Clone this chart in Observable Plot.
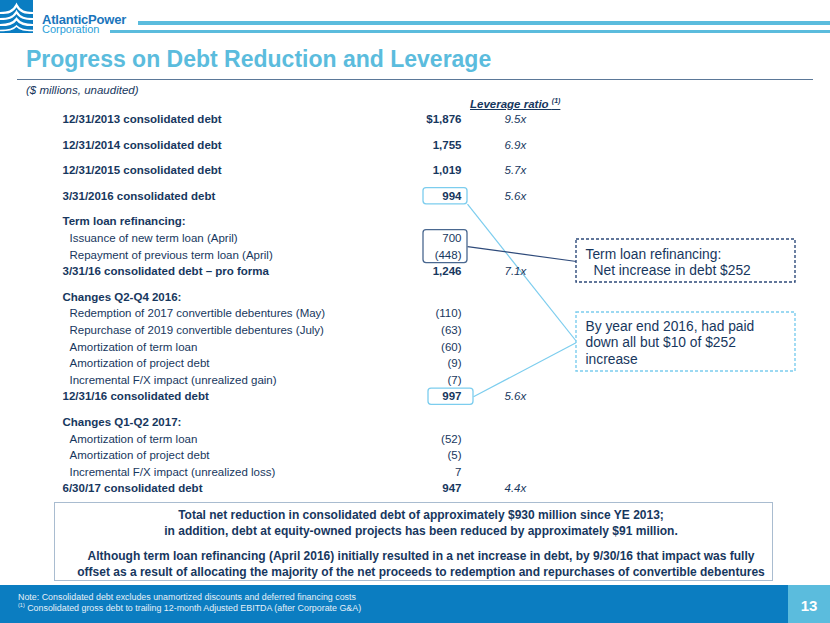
<!DOCTYPE html>
<html>
<head>
<meta charset="utf-8">
<script src="https://cdn.jsdelivr.net/npm/d3@7"></script>
<script src="https://cdn.jsdelivr.net/npm/@observablehq/plot@0.6"></script>
<style>
  html, body { margin: 0; padding: 0; background: #fff; }
  #slide { position: relative; width: 830px; height: 623px; overflow: hidden; background: #fff;
           font-family: "Liberation Sans", Arial, sans-serif; color: #17375E; }
  .abs { position: absolute; white-space: nowrap; }
</style>
</head>
<body>
<div id="slide">
  <svg class="abs" style="left:0;top:0" width="34" height="34" viewBox="0 0 34 34">
    <rect x="0" y="0" width="33" height="33" fill="#0A7DC2"/>
    <path d="M0,13 C8,13 13,12 16.5,5 C20,12 25,13 33,13" fill="none" stroke="#fff" stroke-width="2.2"/>
    <path d="M0,19 C8,19 13,18 16.5,12 C20,18 25,19 33,19" fill="none" stroke="#fff" stroke-width="2.2"/>
    <path d="M0,25 C8,25 13,24 16.5,19 C20,24 25,25 33,25" fill="none" stroke="#fff" stroke-width="2.2"/>
    <path d="M0,30.5 C8,30.5 13,30 16.5,26 C20,30 25,30.5 33,30.5" fill="none" stroke="#fff" stroke-width="1.6"/>
  </svg>
  <div class="abs" style="left:42px;top:14px;font-size:13px;line-height:11px;font-weight:bold;color:#1A75BC;letter-spacing:-0.2px">AtlanticPower</div>
  <div class="abs" style="left:42px;top:25px;font-size:11px;line-height:9px;color:#2B9FD9">Corporation</div>
  <div class="abs" style="left:138px;top:21px;width:692px;height:4px;background:#5BBCDD"></div>
  <div class="abs" style="left:110px;top:30px;width:720px;height:3px;background:#5BBCDD"></div>

  <div class="abs" id="title" style="left:26px;top:46px;font-size:23px;line-height:26px;font-weight:bold;color:#5BBCDD">Progress on Debt Reduction and Leverage</div>
  <div class="abs" style="left:17px;top:78.5px;width:796px;height:1.5px;background:#5B7898"></div>
  <div class="abs" style="left:26px;top:83px;font-size:11.5px;line-height:14px;font-style:italic;color:#17375E">($ millions, unaudited)</div>

  <div class="abs" style="left:470px;top:98px;font-size:11.5px;line-height:12px;font-weight:bold;font-style:italic;color:#17375E"><span style="text-decoration:underline">Leverage ratio <sup style="font-size:7px;line-height:0">(1)</sup></span></div>

  <div id="chart" class="abs" style="left:0;top:92px"></div>

  <div class="abs" style="left:54px;top:502px;width:717px;height:77px;border:1.5px solid #A9BCD0;background:#fff"></div>
  <div class="abs" style="left:60px;top:507px;width:722px;text-align:center;font-size:12px;line-height:16px;font-weight:bold;color:#17375E;white-space:normal">
    <div>Total net reduction in consolidated debt of approximately $930 million since YE 2013;</div>
    <div>in addition, debt at equity-owned projects has been reduced by approximately $91 million.</div>
    <div style="margin-top:9px">Although term loan refinancing (April 2016) initially resulted in a net increase in debt, by 9/30/16 that impact was fully</div>
    <div>offset as a result of allocating the majority of the net proceeds to redemption and repurchases of convertible debentures</div>
  </div>

  <div class="abs" style="left:0;top:585px;width:830px;height:38px;background:#0B7DC1"></div>
  <div class="abs" style="left:788px;top:585px;width:42px;height:38px;background:#5BBCDD"></div>
  <div class="abs" style="left:788px;top:597px;width:42px;text-align:center;font-size:15px;line-height:18px;font-weight:bold;color:#fff">13</div>
  <div class="abs" style="left:18px;top:591.5px;font-size:8.9px;line-height:11px;color:#E6F0F8">
    <div>Note: Consolidated debt excludes unamortized discounts and deferred financing costs</div>
    <div><sup style="font-size:5.5px;line-height:0">(1)</sup> Consolidated gross debt to trailing 12-month Adjusted EBITDA (after Corporate G&amp;A)</div>
  </div>
</div>

<script>
// ---------------- data ----------------
const labels = [
  "12/31/2013 consolidated debt",
  "12/31/2014 consolidated debt",
  "12/31/2015 consolidated debt",
  "3/31/2016 consolidated debt",
  "Term loan refinancing:",
  "Issuance of new term loan (April)",
  "Repayment of previous term loan (April)",
  "3/31/16 consolidated debt \u2013 pro forma",
  "Changes Q2-Q4 2016:",
  "Redemption of 2017 convertible debentures (May)",
  "Repurchase of 2019 convertible debentures (July)",
  "Amortization of term loan",
  "Amortization of project debt",
  "Incremental F/X impact (unrealized gain)",
  "12/31/16 consolidated debt",
  "Changes Q1-Q2 2017:",
  "Amortization of term loan",
  "Amortization of project debt",
  "Incremental F/X impact (unrealized loss)",
  "6/30/17 consolidated debt"
];
const rowTypes = ["total","total","total","total","heading","item","item","total","heading",
  "item","item","item","item","item","total","heading","item","item","item","total"];
const debt = [1876, 1755, 1019, 994, null, 700, -448, 1246, null, -110, -63, -60, -9, -7, 997, null, -52, -5, 7, 947];
const leverage = [9.5, 6.9, 5.7, 5.6, null, null, null, 7.1, null, null, null, null, null, null, 5.6, null, null, null, null, 4.4];

const calloutRefi = ["Term loan refinancing:", "Net increase in debt $252"];
const calloutPaid = ["By year end 2016, had paid", "down all but $10 of $252", "increase"];

// ---------------- layout ----------------
const NAVY = "#17375E", LIGHT = "#7CCDEE", BOXNAVY = "#4A6890", DASHNAVY = "#2E4A7A";
const FONT = "Liberation Sans, Arial, sans-serif";
const SVG_TOP = 92, ROW0 = 119, STEP = 16.6, GAP = 1.54;
const COL_LABEL = 62, COL_ITEM = 69, COL_VALUE = 461, COL_RATIO = 504;

let u = 0;
const rows = labels.map((label, i) => {
  if (i > 0) u += rowTypes[i - 1] === "total" ? GAP : 1;
  return {label, type: rowTypes[i], debt: debt[i], ratio: leverage[i], u, first: i === 0};
});
const uMax = u;
const toU = (pageY) => (pageY - ROW0) / STEP;

const fmt = d3.format(",");
const fmtDebt = (d) => d.first ? "$" + fmt(d.debt) : d.debt < 0 ? `(${fmt(-d.debt)})` : fmt(d.debt);

const bold = rows.filter(d => d.type !== "item");
const items = rows.filter(d => d.type === "item");
const debtTotals = rows.filter(d => d.debt != null && d.type === "total");
const debtItems = rows.filter(d => d.debt != null && d.type !== "total");
const withRatio = rows.filter(d => d.ratio != null);

// boxes around values (rows referenced by index)
const valueBoxes = [
  {from: 3, to: 3, x1: 423, x2: 467, color: LIGHT},
  {from: 5, to: 6, x1: 423, x2: 467, color: BOXNAVY},
  {from: 14, to: 14, x1: 428, x2: 473, color: LIGHT}
];
const callouts = [
  {x1: 576, x2: 795, y1: toU(239), y2: toU(282), color: DASHNAVY},
  {x1: 576, x2: 795, y1: toU(312), y2: toU(371), color: LIGHT}
];
const links = [
  {x1: 467, y1: rows[3].u + 0.48, x2: 576, y2: toU(341), color: LIGHT},
  {x1: 473, y1: rows[14].u, x2: 576, y2: toU(342), color: LIGHT},
  {x1: 467, y1: (rows[5].u + rows[6].u) / 2, x2: 576, y2: toU(261), color: DASHNAVY}
];
const calloutText = [
  {text: calloutRefi[0], x: 585, y: toU(254)},
  {text: calloutRefi[1], x: 593, y: toU(270)},
  {text: calloutPaid[0], x: 585, y: toU(326)},
  {text: calloutPaid[1], x: 585, y: toU(342.5)},
  {text: calloutPaid[2], x: 585, y: toU(359)}
];

const txt = {fontFamily: FONT, fill: NAVY, fontSize: 11.5};

const chart = Plot.plot({
  width: 830,
  height: 410,
  margin: 0,
  style: {fontFamily: FONT, background: "transparent", overflow: "visible"},
  x: {type: "identity", axis: null},
  y: {type: "linear", domain: [0, uMax], range: [ROW0 - SVG_TOP, ROW0 - SVG_TOP + uMax * STEP], axis: null},
  marks: [
    Plot.link(links, {x1: "x1", y1: "y1", x2: "x2", y2: "y2", stroke: d => d.color, strokeWidth: 1.2}),
    Plot.rect(valueBoxes, {x1: "x1", x2: "x2", y1: d => rows[d.from].u - 0.49, y2: d => rows[d.to].u + 0.49,
      rx: 3, fill: "none", stroke: d => d.color, strokeWidth: 1.3}),
    Plot.rect(callouts, {x1: "x1", x2: "x2", y1: "y1", y2: "y2", fill: "white", stroke: d => d.color,
      strokeWidth: 1.4, strokeDasharray: "3,2"}),
    Plot.text(calloutText, {x: "x", y: "y", text: "text", textAnchor: "start", fontFamily: FONT, fontSize: 13.8, fill: NAVY}),
    Plot.text(bold, {...txt, x: COL_LABEL, y: "u", text: "label", textAnchor: "start", fontWeight: "bold"}),
    Plot.text(items, {...txt, x: COL_ITEM, y: "u", text: "label", textAnchor: "start"}),
    Plot.text(debtTotals, {...txt, x: COL_VALUE, y: "u", text: fmtDebt, textAnchor: "end", fontWeight: "bold"}),
    Plot.text(debtItems, {...txt, x: COL_VALUE, y: "u", text: fmtDebt, textAnchor: "end"}),
    Plot.text(withRatio, {...txt, x: COL_RATIO, y: "u", text: d => d.ratio.toFixed(1) + "x", textAnchor: "start", fontStyle: "italic"})
  ]
});
document.getElementById("chart").appendChild(chart);
</script>
</body>
</html>
